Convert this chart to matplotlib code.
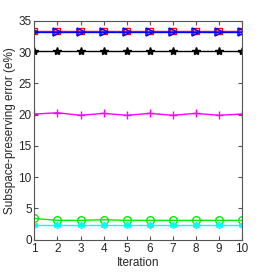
import numpy as np
import matplotlib.pyplot as plt

# Data
iterations = np.arange(1, 11)
err_red = [33.3] * 10
err_blue = [33.2] * 10
err_black = [30.1] * 10
err_magenta = [20.1, 20.3, 19.9, 20.2, 19.9, 20.2, 19.9, 20.2, 19.9, 20.1]
err_green = [3.4, 3.1, 3.1, 3.2, 3.1, 3.1, 3.1, 3.1, 3.1, 3.1]
err_cyan = [2.4] * 10

plt.rcParams.update({
    "font.family": ["Liberation Sans", "DejaVu Sans"],
    "font.size": 8.5,
    "axes.linewidth": 0.8,
    "axes.edgecolor": "#555555",
    "xtick.color": "#555555",
    "ytick.color": "#555555",
    "xtick.labelcolor": "#262626",
    "ytick.labelcolor": "#262626",
    "xtick.direction": "in",
    "ytick.direction": "in",
    "xtick.top": True,
    "ytick.right": True,
    "xtick.major.size": 3,
    "ytick.major.size": 3,
})

fig = plt.figure(figsize=(2.67, 2.74), dpi=100)
ax = fig.add_axes([0.129, 0.125, 0.777, 0.799])

lw = 1.0
ax.plot(iterations, err_red, "s-", color="red", lw=lw, ms=4.5, mfc="none", mew=1.0)
ax.plot(iterations, err_blue, ">-", color="blue", lw=lw, ms=5.5, mfc="none", mew=1.1)
ax.plot(iterations, err_black, "*-", color="black", lw=lw, ms=6)
ax.plot(iterations, err_magenta, "+-", color="magenta", lw=lw, ms=5.5, mew=1.0)
ax.plot(iterations, err_green, "o-", color="#00ee00", lw=lw, ms=5.5, mfc="none", mew=1.0)
ax.plot(iterations, err_cyan, marker=(6, 2, 0), ls="-", color="cyan", lw=lw, ms=5, mew=1.1)

ax.set_xlim(1, 10)
ax.set_ylim(0, 35)
ax.set_xticks(iterations)
ax.set_yticks(np.arange(0, 36, 5))
ax.tick_params(pad=2)
ax.set_xlabel("Iteration", color="#262626", labelpad=2)
ax.set_ylabel("Subspace-preserving error (e%)", color="#262626", labelpad=2)

fig.savefig("out.png", dpi=100)
